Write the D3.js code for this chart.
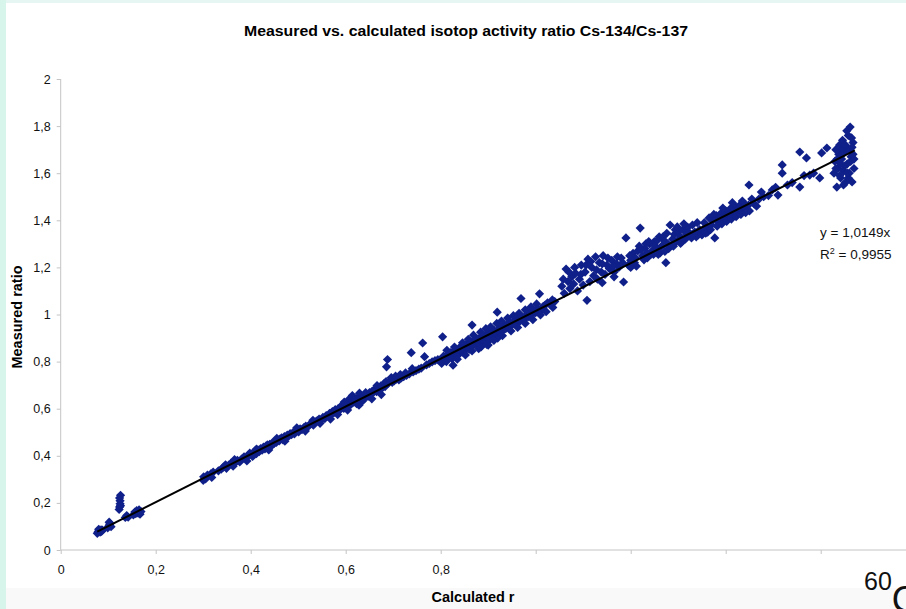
<!DOCTYPE html>
<html>
<head>
<meta charset="utf-8">
<script src="https://cdn.jsdelivr.net/npm/d3@7"></script>
<style>
  html, body { margin: 0; padding: 0; background: #fff; }
  svg { display: block; }
  text { font-family: "Liberation Sans", Arial, Helvetica, sans-serif; }
</style>
</head>
<body>
<svg id="chart" width="906" height="609"></svg>
<script>
// Calculated r vs measured Cs-134/Cs-137 ratio, one [calculated, measured] pair per sample
const lowSamples = [
  [0.077,0.071],[0.079,0.078],[0.081,0.083],[0.083,0.076],[0.085,0.086],[0.080,0.088],[0.086,0.079],[0.088,0.084],
  [0.099,0.094],[0.101,0.101],[0.103,0.107],[0.104,0.113],[0.102,0.118],[0.106,0.099],
  [0.123,0.172],[0.124,0.183],[0.125,0.196],[0.125,0.209],[0.124,0.221],[0.126,0.232],[0.126,0.188],
  [0.136,0.138],[0.139,0.146],[0.142,0.139],
  [0.153,0.149],[0.156,0.161],[0.158,0.154],[0.160,0.167],[0.163,0.157],[0.165,0.171],[0.167,0.152],[0.169,0.163]
];
const samplesB = [
  [0.300,0.296],[0.301,0.311],[0.305,0.302],[0.309,0.318],[0.316,0.323],[0.321,0.331],
  [0.332,0.336],[0.338,0.343],[0.343,0.352],[0.349,0.347],[0.354,0.361],[0.358,0.368],[0.363,0.356],[0.368,0.372],
  [0.372,0.381],[0.377,0.374],[0.381,0.386],[0.386,0.396],[0.390,0.389],[0.394,0.402],[0.398,0.411],
  [0.401,0.405],[0.404,0.397],[0.406,0.414],[0.409,0.421],[0.412,0.409],[0.415,0.425],[0.418,0.418],[0.421,0.431],
  [0.424,0.424],[0.427,0.437],[0.430,0.429],[0.432,0.441],[0.435,0.446],[0.437,0.434],[0.440,0.449],[0.443,0.441],
  [0.446,0.456],[0.449,0.452],[0.451,0.462],[0.454,0.457],[0.457,0.468],[0.460,0.463],[0.462,0.472],[0.465,0.476],
  [0.468,0.468],[0.471,0.482],[0.474,0.477],[0.477,0.488],[0.480,0.483],[0.483,0.494],[0.486,0.490],[0.489,0.499],
  [0.492,0.493],[0.495,0.505],[0.498,0.509],[0.501,0.502],[0.504,0.514],[0.508,0.511],[0.512,0.520],[0.516,0.526],
  [0.520,0.522],[0.524,0.533],[0.528,0.538],[0.532,0.530],[0.536,0.544],[0.540,0.549],[0.544,0.556],[0.548,0.552],
  [0.412,0.428],[0.438,0.425],[0.455,0.474],[0.472,0.462],[0.497,0.519],[0.515,0.505],[0.531,0.551],[0.546,0.538],
  [0.318,0.308],[0.347,0.362],[0.366,0.384],[0.392,0.378]
];
const samplesC = [
  [0.552,0.563],[0.556,0.558],[0.559,0.571],[0.563,0.567],[0.566,0.580],[0.569,0.574],[0.572,0.588],[0.575,0.582],
  [0.578,0.596],[0.581,0.589],[0.584,0.600],[0.587,0.593],[0.590,0.606],[0.593,0.617],[0.596,0.601],[0.599,0.612],
  [0.602,0.625],[0.605,0.609],[0.608,0.642],[0.611,0.618],[0.614,0.656],[0.617,0.628],[0.620,0.634],[0.623,0.621],
  [0.626,0.648],[0.629,0.666],[0.632,0.640],[0.635,0.632],[0.638,0.652],[0.641,0.646],[0.644,0.659],[0.647,0.652],
  [0.650,0.668],[0.653,0.661],[0.656,0.675],[0.659,0.670],[0.662,0.684],[0.665,0.672],[0.668,0.690],[0.671,0.681],
  [0.674,0.697],[0.677,0.688],[0.680,0.705],[0.683,0.694],[0.686,0.778],[0.688,0.809],[0.690,0.708],[0.694,0.721],
  [0.698,0.712],[0.702,0.718],[0.707,0.726],[0.712,0.722],[0.717,0.731],[0.722,0.736],[0.728,0.741],[0.734,0.748],
  [0.738,0.838],[0.742,0.756],[0.748,0.762],[0.754,0.768],[0.759,0.772],[0.762,0.879],[0.766,0.821],[0.770,0.786],
  [0.776,0.792],[0.782,0.799],[0.788,0.804],[0.794,0.808],
  [0.568,0.556],[0.583,0.575],[0.597,0.628],[0.604,0.594],[0.618,0.645],[0.628,0.615],[0.642,0.668],[0.655,0.642],
  [0.666,0.698],[0.675,0.66],[0.685,0.715],[0.696,0.732],[0.705,0.738],[0.715,0.745],[0.726,0.752],[0.74,0.77]
];
const samplesD = [
  [0.800,0.810],[0.802,0.792],[0.804,0.905],[0.806,0.823],[0.809,0.815],[0.812,0.800],[0.815,0.830],[0.818,0.822],
  [0.821,0.838],[0.824,0.812],[0.826,0.785],[0.827,0.845],[0.830,0.833],[0.833,0.852],[0.836,0.826],[0.839,0.858],
  [0.842,0.846],[0.845,0.864],[0.848,0.838],[0.851,0.870],[0.854,0.857],[0.857,0.878],[0.860,0.852],[0.863,0.884],
  [0.866,0.955],[0.868,0.868],[0.871,0.890],[0.874,0.876],[0.877,0.896],[0.880,0.872],[0.880,0.855],[0.883,0.902],
  [0.886,0.888],[0.889,0.908],[0.892,0.882],[0.895,0.914],[0.898,0.900],[0.900,0.870],[0.901,0.921],[0.904,0.894],
  [0.907,0.926],[0.910,0.912],[0.913,0.932],[0.916,0.918],[0.919,1.010],[0.920,0.900],[0.922,0.938],[0.925,0.925],
  [0.928,0.945],[0.931,0.932],[0.934,0.952],[0.937,0.940],[0.940,0.960],[0.943,0.948],[0.946,0.966],[0.950,0.955],
  [0.954,0.972],[0.958,0.962],[0.962,0.980],[0.966,0.970],[0.969,1.068],[0.972,0.988],[0.976,0.980],[0.980,0.998],
  [0.984,0.990],[0.988,1.006],[0.992,0.998],[0.996,1.015],[1.000,1.008],[1.004,1.024],[1.008,1.088],[1.012,1.018],
  [1.016,1.035],[1.020,1.040],[1.025,1.050],[1.030,1.044],[1.035,1.062],[1.040,1.055],
  [0.813,0.848],[0.829,0.862],[0.846,0.88],[0.858,0.895],[0.869,0.912],[0.884,0.925],[0.895,0.94],[0.905,0.948],
  [0.918,0.962],[0.928,0.972],[0.941,0.985],[0.953,0.995],[0.965,1.005],[0.978,1.02],[0.99,1.032],[1.002,1.045],
  [0.835,0.81],[0.852,0.828],[0.866,0.845],[0.885,0.862],[0.897,0.873],[0.912,0.89],[0.93,0.91],[0.948,0.93],
  [0.962,0.945],[0.978,0.962],[0.994,0.978],[1.01,0.998],[1.022,1.012],[1.036,1.03]
];
const samplesE = [
  [1.055,1.120],[1.060,1.090],[1.064,1.193],[1.068,1.140],[1.072,1.110],[1.076,1.160],[1.080,1.130],[1.084,1.175],
  [1.088,1.100],[1.092,1.150],[1.096,1.210],[1.100,1.125],[1.104,1.180],[1.108,1.060],[1.110,1.235],[1.114,1.140],
  [1.118,1.200],[1.122,1.165],[1.126,1.245],[1.130,1.150],[1.134,1.220],[1.138,1.180],[1.142,1.250],[1.146,1.170],
  [1.150,1.210],[1.155,1.195],[1.160,1.230],[1.165,1.180],[1.170,1.215],[1.175,1.200],[1.180,1.240],[1.185,1.138],
  [1.190,1.325],[1.195,1.210],[1.200,1.230],[1.205,1.260],[1.210,1.240],[1.215,1.270],[1.220,1.367],[1.225,1.250],
  [1.230,1.280],[1.235,1.260],[1.240,1.300],[1.245,1.270],[1.250,1.310],[1.255,1.280],[1.260,1.330],[1.265,1.290],
  [1.270,1.315],[1.274,1.220],[1.278,1.300],[1.283,1.380],[1.288,1.320],[1.292,1.340],[1.296,1.310],[1.300,1.350],
  [1.305,1.330],[1.310,1.360],[1.315,1.320],[1.320,1.370],[1.325,1.340],[1.330,1.380],[1.335,1.350],[1.340,1.390],
  [1.345,1.360],[1.212,1.205],[1.228,1.232],[1.248,1.255],[1.262,1.262],[1.286,1.292],[1.302,1.318],[1.318,1.342],
  [1.058,1.15],[1.07,1.18],[1.082,1.2],[1.095,1.17],[1.106,1.21],[1.116,1.225],[1.128,1.19],[1.14,1.215],
  [1.152,1.24],[1.163,1.205],[1.172,1.245],[1.183,1.22],[1.198,1.25],[1.208,1.22],[1.218,1.29],[1.232,1.3],
  [1.242,1.255],[1.252,1.29],[1.268,1.33],[1.28,1.28],[1.294,1.36],[1.308,1.31],[1.322,1.35],[1.338,1.33],
  [1.14,1.135],[1.165,1.16],[1.2,1.2],[1.235,1.24],
  [1.258,1.255],[1.272,1.268],[1.29,1.29],[1.305,1.302],[1.328,1.325],[1.342,1.338],[1.222,1.275],[1.238,1.31],
  [1.256,1.315],[1.276,1.345],[1.298,1.372],[1.312,1.385]
];
const samplesF = [
  [1.350,1.338],[1.355,1.390],[1.360,1.370],[1.365,1.410],[1.370,1.380],[1.377,1.325],[1.380,1.420],[1.385,1.390],
  [1.390,1.430],[1.395,1.400],[1.400,1.440],[1.405,1.410],[1.410,1.450],[1.415,1.420],[1.420,1.460],[1.425,1.430],
  [1.430,1.465],[1.435,1.440],[1.440,1.470],[1.445,1.445],[1.449,1.550],[1.450,1.440],[1.460,1.470],[1.470,1.490],
  [1.480,1.500],[1.498,1.529],[1.510,1.507],[1.519,1.600],[1.519,1.635],[1.530,1.550],[1.540,1.560],[1.556,1.690],
  [1.556,1.541],[1.565,1.590],[1.570,1.665],[1.577,1.592],[1.585,1.600],[1.598,1.580],[1.602,1.686],[1.613,1.707],
  [1.352,1.36],[1.362,1.35],[1.372,1.4],[1.388,1.41],[1.398,1.42],[1.408,1.43],[1.418,1.44],[1.428,1.45],
  [1.438,1.455],[1.448,1.465],[1.455,1.49],[1.465,1.46],
  [1.358,1.345],[1.368,1.36],[1.382,1.375],[1.392,1.385],[1.402,1.395],[1.412,1.405],[1.422,1.415],[1.432,1.425],
  [1.442,1.432],[1.375,1.425],[1.394,1.452],[1.414,1.475],[1.435,1.482],[1.475,1.52],[1.49,1.505],[1.505,1.54]
];
const samplesG = [
  [1.628,1.600],[1.630,1.650],[1.632,1.700],[1.634,1.541],[1.636,1.620],[1.638,1.680],[1.640,1.720],[1.642,1.580],
  [1.644,1.660],[1.646,1.740],[1.648,1.610],[1.650,1.690],[1.652,1.560],[1.654,1.710],[1.656,1.640],[1.658,1.760],
  [1.660,1.600],[1.662,1.796],[1.664,1.670],[1.666,1.563],[1.668,1.730],[1.670,1.620],[1.655,1.780],[1.645,1.700],
  [1.635,1.660],[1.660,1.700],[1.665,1.750],[1.650,1.630],[1.640,1.590],[1.668,1.680],[1.658,1.580],[1.648,1.550],
  [1.663,1.650],[1.652,1.72],[1.642,1.64],[1.632,1.62],[1.67,1.66],[1.656,1.6],[1.646,1.68],[1.666,1.71]
];

// Linear trendline through the origin
const trendSlope = 1.0149;
const rSquared = "0,9955";
const trendRange = [0.077, 1.672];

const xTickValues = [0, 0.2, 0.4, 0.6, 0.8, 1.0, 1.2, 1.4, 1.6];
const xTickLabels = ["0", "0,2", "0,4", "0,6", "0,8", "", "", "", ""];
const yTickValues = [0, 0.2, 0.4, 0.6, 0.8, 1.0, 1.2, 1.4, 1.6, 1.8, 2.0];
const yTickLabels = ["0", "0,2", "0,4", "0,6", "0,8", "1", "1,2", "1,4", "1,6", "1,8", "2"];

const samples = [].concat(lowSamples, samplesB, samplesC, samplesD, samplesE, samplesF, samplesG);

const svg = d3.select("#chart");

// slide background edges
svg.append("rect").attr("x", 0).attr("y", 0).attr("width", 906).attr("height", 609).attr("fill", "#ffffff");
svg.append("rect").attr("x", 0).attr("y", 588).attr("width", 906).attr("height", 21).attr("fill", "#f9f9f9");
svg.append("rect").attr("x", 0).attr("y", 0).attr("width", 906).attr("height", 3).attr("fill", "#e6f6f2");
svg.append("rect").attr("x", 0).attr("y", 0).attr("width", 6).attr("height", 609).attr("fill", "#d7f5ea");

const x = d3.scaleLinear().domain([0, 1.8]).range([60.7, 915.7]);
const y = d3.scaleLinear().domain([0, 2]).range([550, 79]);

// axes
const xAxis = d3.axisBottom(x).tickValues(xTickValues)
  .tickFormat((d, i) => xTickLabels[i]).tickSize(4).tickPadding(11);
const gx = svg.append("g").attr("transform", `translate(0,${y(0)})`).call(xAxis);
gx.select(".domain").attr("stroke", "#c4c4c4").attr("d", `M${x(0)},0H906`);
gx.selectAll(".tick line").attr("stroke", "#c4c4c4");
gx.selectAll(".tick text").attr("font-size", 12.5).attr("fill", "#111");

const yAxis = d3.axisLeft(y).tickValues(yTickValues)
  .tickFormat((d, i) => yTickLabels[i]).tickSize(4).tickPadding(6);
const gy = svg.append("g").attr("transform", `translate(${x(0)},0)`).call(yAxis);
gy.select(".domain").attr("stroke", "#c4c4c4").attr("d", `M0,${y(0)}V${y(2)}`);
gy.selectAll(".tick line").attr("stroke", "#c4c4c4");
gy.selectAll(".tick text").attr("font-size", 12.5).attr("fill", "#111");

// sample markers
const diamond = "M0,-4.6L4.6,0L0,4.6L-4.6,0Z";
svg.append("g").selectAll("path").data(samples).join("path")
  .attr("d", diamond)
  .attr("transform", d => `translate(${x(d[0])},${y(d[1])})`)
  .attr("fill", "#10208a");

// trendline
svg.append("line")
  .attr("x1", x(trendRange[0])).attr("y1", y(trendSlope * trendRange[0]))
  .attr("x2", x(trendRange[1])).attr("y2", y(trendSlope * trendRange[1]))
  .attr("stroke", "#000").attr("stroke-width", 2);

// titles
svg.append("text").attr("x", 466).attr("y", 36).attr("text-anchor", "middle")
  .attr("font-size", 14).attr("font-weight", "bold")
  .attr("textLength", 444).attr("lengthAdjust", "spacingAndGlyphs")
  .text("Measured vs. calculated isotop activity ratio Cs-134/Cs-137");

svg.append("text").attr("x", 473).attr("y", 602).attr("text-anchor", "middle")
  .attr("font-size", 14.5).attr("font-weight", "bold").text("Calculated r");

svg.append("text").attr("transform", "translate(22,317) rotate(-90)").attr("text-anchor", "middle")
  .attr("font-size", 14.5).attr("font-weight", "bold").text("Measured ratio");

// trendline equation
svg.append("text").attr("x", 820).attr("y", 237).attr("font-size", 13.5).attr("fill", "#111")
  .text("y = " + String(trendSlope).replace(".", ",") + "x");
const r2 = svg.append("text").attr("x", 820).attr("y", 259).attr("font-size", 13.5).attr("fill", "#111");
r2.append("tspan").text("R");
r2.append("tspan").attr("font-size", 9).attr("dy", -5).text("2");
r2.append("tspan").attr("dy", 5).text(" = " + rSquared);

// slide footer text
const foot = svg.append("text").attr("x", 864).attr("y", 590).attr("fill", "#111");
foot.append("tspan").attr("font-size", 25).text("60");
foot.append("tspan").attr("font-size", 36).attr("dy", 22).text("C");
</script>
</body>
</html>
